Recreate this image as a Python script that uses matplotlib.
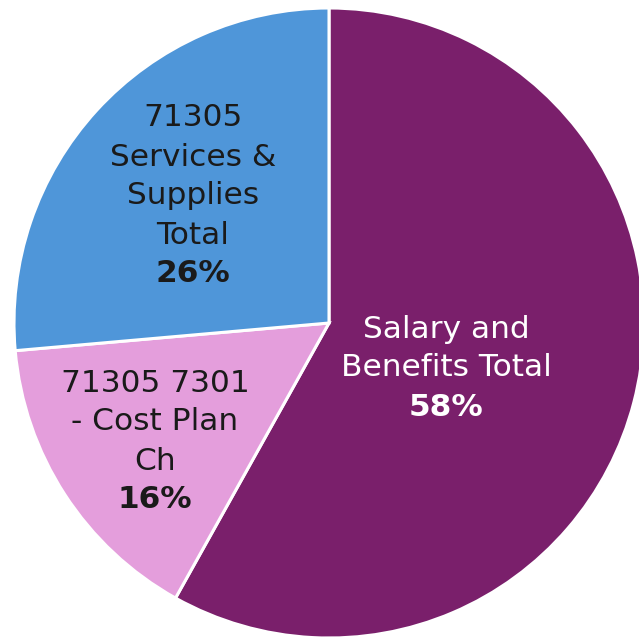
import matplotlib.pyplot as plt

# data
labels = ["Salary and\nBenefits Total", "71305 7301\n- Cost Plan\nCh", "71305\nServices &\nSupplies\nTotal"]
shares = [58.1, 15.5, 26.4]
colors = ["#7A1F6B", "#E49EDC", "#4F96D9"]
text_colors = ["white", "#1a1a1a", "#1a1a1a"]

plt.rcParams["font.family"] = ["DejaVu Sans"]

W, H = 639, 641
R = 315.0
cx, cy = 329, 323  # pie centre, pixels from top-left

# first-line centre of each label, pixels from top-left
label_px = [(446, 329), (155, 383), (193, 118)]
pitch = 39.0 / R

fig = plt.figure(figsize=(W / 100, H / 100), dpi=100)
ax = fig.add_axes([0, 0, 1, 1])

ax.pie(shares, colors=colors, startangle=90, counterclock=False, radius=1.0,
       wedgeprops=dict(edgecolor="white", linewidth=2.2))
ax.set_xlim(-cx / R, (W - cx) / R)
ax.set_ylim(-(H - cy) / R, cy / R)
ax.set_aspect("equal")
ax.axis("off")

for lab, pct, (px, py), tc in zip(labels, shares, label_px, text_colors):
    x = (px - cx) / R
    y = (cy - py) / R
    lines = lab.split("\n")
    for i, line in enumerate(lines):
        ax.text(x, y - i * pitch, line, ha="center", va="center",
                fontsize=22.5, color=tc)
    ax.text(x, y - len(lines) * pitch, f"{round(pct)}%", ha="center", va="center",
            fontsize=22.5, fontweight="bold", color=tc)

fig.savefig("out.png", dpi=100)
